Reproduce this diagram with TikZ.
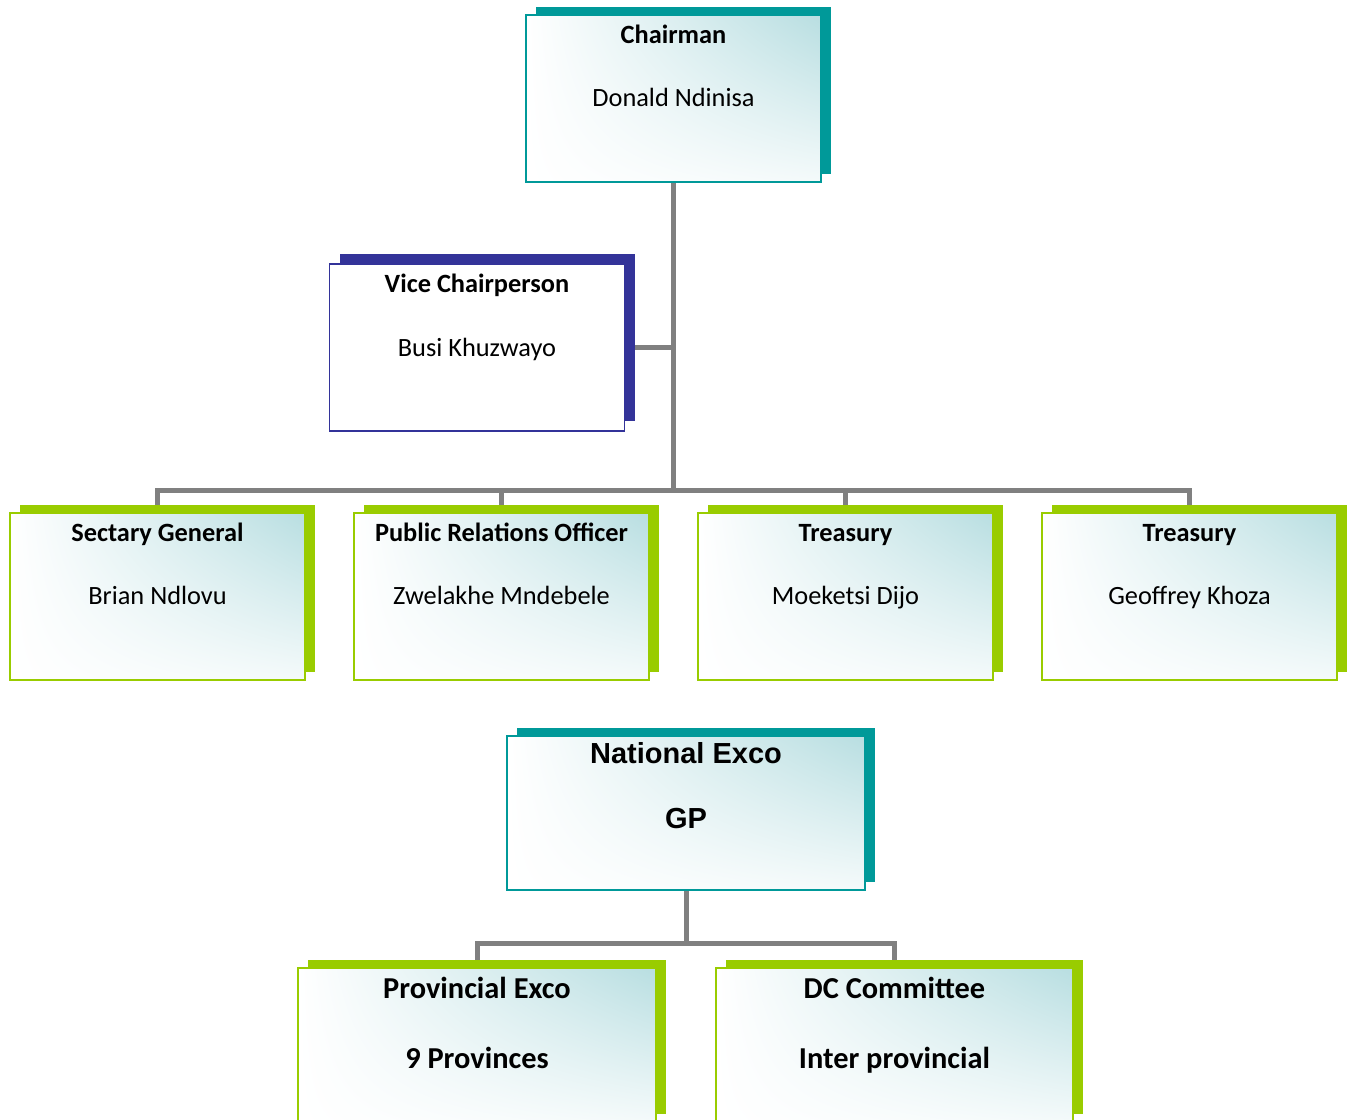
\documentclass[tikz,border=0pt]{standalone}
\usepackage{fontspec}
\setmainfont{Carlito}
\newfontfamily\arialfont{Liberation Sans}
\usepackage{tikz}
\usetikzlibrary{calc}
\usetikzlibrary{backgrounds,shadows,shadings}
\definecolor{tealdark}{RGB}{0,153,153}
\definecolor{navyblue}{RGB}{51,51,153}
\definecolor{limegreen}{RGB}{153,204,0}
\definecolor{boxtint}{RGB}{184,222,225}
\definecolor{linegray}{RGB}{128,128,128}

\begin{document}
\begin{tikzpicture}[x=0.02cm, y=-0.02cm,
    conn/.style={draw=linegray, line width=0.1cm},
    card/.style={rectangle, inner sep=0pt, minimum width=5.9cm, minimum height=3.34cm, line width=0.04cm},
    tinted/.style={upper right=boxtint, upper left=white, lower left=white, lower right=white!85!boxtint},
    tealcard/.style={card, tinted, draw=tealdark, general shadow={fill=tealdark, shadow xshift=0.2cm, shadow yshift=0.16cm}},
    bluecard/.style={card, fill=white, draw=navyblue, line width=0.03cm, general shadow={fill=navyblue, shadow xshift=0.21cm, shadow yshift=0.2cm}},
    greencard/.style={card, tinted, draw=limegreen, general shadow={fill=limegreen, shadow xshift=0.2cm, shadow yshift=0.16cm}},
    bigcard/.style={minimum width=7.16cm, minimum height=3.08cm},
    cardtitle/.style={anchor=base, font=\fontsize{15}{18}\selectfont\bfseries},
    cardtext/.style={anchor=base, font=\fontsize{15}{18}\selectfont},
    arialtitle/.style={anchor=base, font=\arialfont\fontsize{16.5}{20}\selectfont\bfseries},
    bigtitle/.style={anchor=base, font=\fontsize{17.3}{21}\selectfont\bfseries}]
    \useasboundingbox (0,0) rectangle (1355,1119);
    \clip (0,0) rectangle (1355,1119);

    % top of the chart
    \node[tealcard] (chair) at (673.5,98.5) {};
    \node[cardtitle] (chairT) at ($(chair.north)+(0,29)$) {Chairman};
    \node[cardtext] (chairN) at ($(chair.north)+(0,92)$) {Donald Ndinisa};

    \node[bluecard] (vice) at (477,347.5) {};
    \node[cardtitle] (viceT) at ($(vice.north)+(0,29)$) {Vice Chairperson};
    \node[cardtext] (viceN) at ($(vice.north)+(0,93)$) {Busi Khuzwayo};

    % officers
    \node[greencard] (sec) at (157.5,596.5) {};
    \node[cardtitle] (secT) at ($(sec.north)+(0,29)$) {Sectary General};
    \node[cardtext] (secN) at ($(sec.north)+(0,92)$) {Brian Ndlovu};

    \node[greencard] (pro) at (501.5,596.5) {};
    \node[cardtitle] (proT) at ($(pro.north)+(0,29)$) {Public Relations Officer};
    \node[cardtext] (proN) at ($(pro.north)+(0,92)$) {Zwelakhe Mndebele};

    \node[greencard] (moe) at (845.5,596.5) {};
    \node[cardtitle] (moeT) at ($(moe.north)+(0,29)$) {Treasury};
    \node[cardtext] (moeN) at ($(moe.north)+(0,92)$) {Moeketsi Dijo};

    \node[greencard] (geo) at (1189.5,596.5) {};
    \node[cardtitle] (geoT) at ($(geo.north)+(0,29)$) {Treasury};
    \node[cardtext] (geoN) at ($(geo.north)+(0,92)$) {Geoffrey Khoza};

    \coordinate (bus) at (673.5,490);

    % second chart
    \node[tealcard, bigcard] (nat) at (686,813) {};
    \node[arialtitle] (natT) at ($(nat.north)+(0,28)$) {National Exco};
    \node[arialtitle] (natN) at ($(nat.north)+(0,93)$) {GP};

    \node[greencard, bigcard] (prov) at (477,1045) {};
    \node[bigtitle] (provT) at ($(prov.north)+(0,31)$) {Provincial Exco};
    \node[bigtitle] (provN) at ($(prov.north)+(0,101)$) {9 Provinces};

    \node[greencard, bigcard] (dc) at (894.5,1045) {};
    \node[bigtitle] (dcT) at ($(dc.north)+(0,31)$) {DC Committee};
    \node[bigtitle] (dcN) at ($(dc.north)+(0,101)$) {Inter provincial};

    \coordinate (split) at (686,943);

    \begin{scope}[on background layer]
      \draw[conn] (chair.south) -- (bus);
      \draw[conn] (vice.east) -- (vice.east -| chair.south);
      \draw[conn] (sec.north) -- (sec.north |- bus) -- (geo.north |- bus) -- (geo.north);
      \draw[conn] (pro.north) -- (pro.north |- bus);
      \draw[conn] (moe.north) -- (moe.north |- bus);
      \draw[conn] (nat.south) -- (split);
      \draw[conn] (prov.north) -- (prov.north |- split) -- (dc.north |- split) -- (dc.north);
    \end{scope}
  \end{tikzpicture}
\end{document}
